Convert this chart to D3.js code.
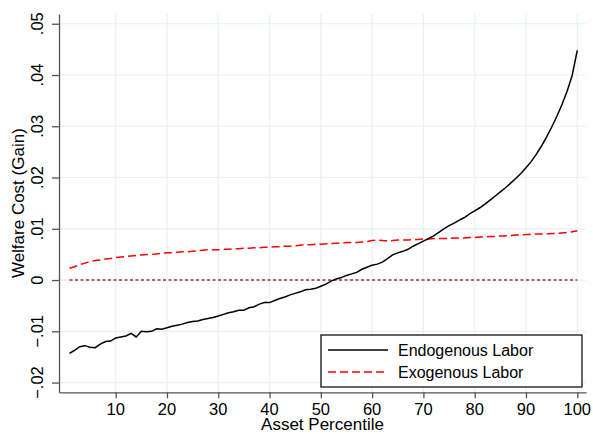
<!DOCTYPE html>
<html>
<head>
<meta charset="utf-8">
<script src="https://cdn.jsdelivr.net/npm/d3@7"></script>
<style>
  body { margin: 0; background: #fff; }
  svg text { font-family: "Liberation Sans", Arial, sans-serif; fill: #000; }
</style>
</head>
<body>
<div id="chart"></div>
<script>
// Chart data
const percentiles = d3.range(1, 101);
const endogenous = [
  -0.0143, -0.0137, -0.0130, -0.0128, -0.0131, -0.0132, -0.0125, -0.0120, -0.0119, -0.0113,
  -0.0111, -0.0109, -0.0104, -0.0111, -0.0100, -0.0101, -0.0100, -0.0095, -0.0096, -0.0093,
  -0.0090, -0.0088, -0.0086, -0.0083, -0.0081, -0.0080, -0.0077, -0.0075, -0.0073, -0.0070,
  -0.0067, -0.0064, -0.0062, -0.0059, -0.0059, -0.0054, -0.0052, -0.0047, -0.0044, -0.0044,
  -0.0040, -0.0036, -0.0033, -0.0029, -0.0026, -0.0023, -0.0019, -0.0018, -0.0016, -0.0012,
  -0.0008, -0.0002, 0.0002, 0.0005, 0.0009, 0.0012, 0.0015, 0.0021, 0.0025, 0.0029,
  0.0031, 0.0035, 0.0042, 0.0049, 0.0053, 0.0056, 0.0060, 0.0066, 0.0071, 0.0076,
  0.0081, 0.0086, 0.0093, 0.0100, 0.0106, 0.0111, 0.0117, 0.0122, 0.0129, 0.0135,
  0.0141, 0.0148, 0.0156, 0.0164, 0.0172, 0.0180, 0.0189, 0.0198, 0.0208, 0.0219,
  0.0231, 0.0245, 0.0261, 0.0279, 0.0298, 0.0319, 0.0342, 0.0368, 0.0399, 0.0448
];
const exogenous = [
  0.0023, 0.0026, 0.0030, 0.0033, 0.0036, 0.0038, 0.0039, 0.0041, 0.0042, 0.0044,
  0.0045, 0.0046, 0.0047, 0.0048, 0.0049, 0.0050, 0.0050, 0.0051, 0.0052, 0.0053,
  0.0053, 0.0054, 0.0055, 0.0055, 0.0056, 0.0057, 0.0058, 0.0059, 0.0059, 0.0059,
  0.0060, 0.0060, 0.0061, 0.0061, 0.0062, 0.0062, 0.0063, 0.0063, 0.0064, 0.0064,
  0.0065, 0.0065, 0.0066, 0.0066, 0.0067, 0.0068, 0.0069, 0.0069, 0.0070, 0.0070,
  0.0071, 0.0071, 0.0072, 0.0072, 0.0073, 0.0073, 0.0073, 0.0074, 0.0075, 0.0077,
  0.0078, 0.0077, 0.0076, 0.0077, 0.0078, 0.0078, 0.0078, 0.0079, 0.0079, 0.0080,
  0.0080, 0.0081, 0.0081, 0.0081, 0.0081, 0.0082, 0.0082, 0.0082, 0.0083, 0.0083,
  0.0084, 0.0084, 0.0085, 0.0085, 0.0086, 0.0086, 0.0087, 0.0088, 0.0088, 0.0089,
  0.0089, 0.0090, 0.0090, 0.0090, 0.0091, 0.0091, 0.0092, 0.0093, 0.0094, 0.0096
];
const xTicks = [10, 20, 30, 40, 50, 60, 70, 80, 90, 100];
const yTicks = [-0.02, -0.01, 0, 0.01, 0.02, 0.03, 0.04, 0.05];
const yTickLabels = ["\u2212.02", "\u2212.01", "0", ".01", ".02", ".03", ".04", ".05"];
const seriesNames = ["Endogenous Labor", "Exogenous Labor"];

// Set up the SVG and scales
const width = 593;
const height = 434;
const plotLeft = 59, plotRight = 586, plotTop = 14, plotBottom = 392.3;

const svg = d3.select("#chart").append("svg")
    .attr("width", width)
    .attr("height", height);

const x = d3.scaleLinear().domain([-1.05, 101.7]).range([plotLeft, plotRight]);
const y = d3.scaleLinear().domain([-0.0219, 0.0519]).range([plotBottom, plotTop]);

// Grid lines
const grid = svg.append("g").attr("stroke", "#e9f1f2").attr("stroke-width", 1.2);
grid.selectAll("line.h")
    .data(yTicks)
    .enter().append("line")
    .attr("class", "h")
    .attr("x1", plotLeft).attr("x2", plotRight)
    .attr("y1", d => y(d)).attr("y2", d => y(d));
grid.selectAll("line.v")
    .data(xTicks)
    .enter().append("line")
    .attr("class", "v")
    .attr("x1", d => x(d)).attr("x2", d => x(d))
    .attr("y1", plotTop).attr("y2", plotBottom);

// Axes
const axisColor = "#555";
const xAxis = svg.append("g")
    .attr("transform", `translate(0,${plotBottom})`)
    .call(d3.axisBottom(x).tickValues(xTicks).tickSize(6).tickSizeOuter(0).tickFormat(""));
const yAxis = svg.append("g")
    .attr("transform", `translate(${plotLeft},0)`)
    .call(d3.axisLeft(y).tickValues(yTicks).tickSize(7).tickSizeOuter(0).tickFormat(""));
[xAxis, yAxis].forEach(g => {
    g.selectAll("path, line").attr("stroke", axisColor).attr("stroke-width", 1.3);
});

// Tick labels
svg.selectAll("text.xt")
    .data(xTicks)
    .enter().append("text")
    .attr("class", "xt")
    .attr("x", d => x(d))
    .attr("y", 415)
    .attr("text-anchor", "middle")
    .style("font-size", "16.5px")
    .text(d => d);
svg.selectAll("text.yt")
    .data(yTicks)
    .enter().append("text")
    .attr("class", "yt")
    .attr("transform", d => `translate(43,${y(d)}) rotate(-90)`)
    .attr("text-anchor", "middle")
    .style("font-size", "16.5px")
    .text((d, i) => yTickLabels[i]);

// Axis titles
svg.append("text")
    .attr("x", (plotLeft + plotRight) / 2)
    .attr("y", 430)
    .attr("text-anchor", "middle")
    .style("font-size", "17px")
    .text("Asset Percentile");
svg.append("text")
    .attr("transform", `translate(24,${(plotTop + plotBottom) / 2}) rotate(-90)`)
    .attr("text-anchor", "middle")
    .style("font-size", "17px")
    .text("Welfare Cost (Gain)");

// Zero reference line
svg.append("line")
    .attr("x1", x(1)).attr("x2", x(100))
    .attr("y1", y(0)).attr("y2", y(0))
    .attr("stroke", "#9a3434")
    .attr("stroke-width", 1.4)
    .attr("stroke-dasharray", "3,2.5");

// Series lines
const line = d3.line()
    .x((d, i) => x(percentiles[i]))
    .y(d => y(d));

svg.append("path")
    .datum(exogenous)
    .attr("fill", "none")
    .attr("stroke", "#ff0000")
    .attr("stroke-width", 1.5)
    .attr("stroke-dasharray", "8,4")
    .attr("d", line);

svg.append("path")
    .datum(endogenous)
    .attr("fill", "none")
    .attr("stroke", "#000")
    .attr("stroke-width", 1.5)
    .attr("d", line);

// Legend
const legend = svg.append("g");
legend.append("rect")
    .attr("x", 321).attr("y", 335)
    .attr("width", 261).attr("height", 52)
    .attr("fill", "#fff")
    .attr("stroke", "#000")
    .attr("stroke-width", 1.2);
const legendStyles = [
    { color: "#000", dash: null },
    { color: "#ff0000", dash: "8,4" }
];
seriesNames.forEach((name, i) => {
    const ly = 350 + i * 22;
    legend.append("line")
        .attr("x1", 328).attr("x2", 388)
        .attr("y1", ly).attr("y2", ly)
        .attr("stroke", legendStyles[i].color)
        .attr("stroke-width", 1.5)
        .attr("stroke-dasharray", legendStyles[i].dash);
    legend.append("text")
        .attr("x", 398)
        .attr("y", ly + 5.5)
        .style("font-size", "16px")
        .text(name);
});
</script>
</body>
</html>
